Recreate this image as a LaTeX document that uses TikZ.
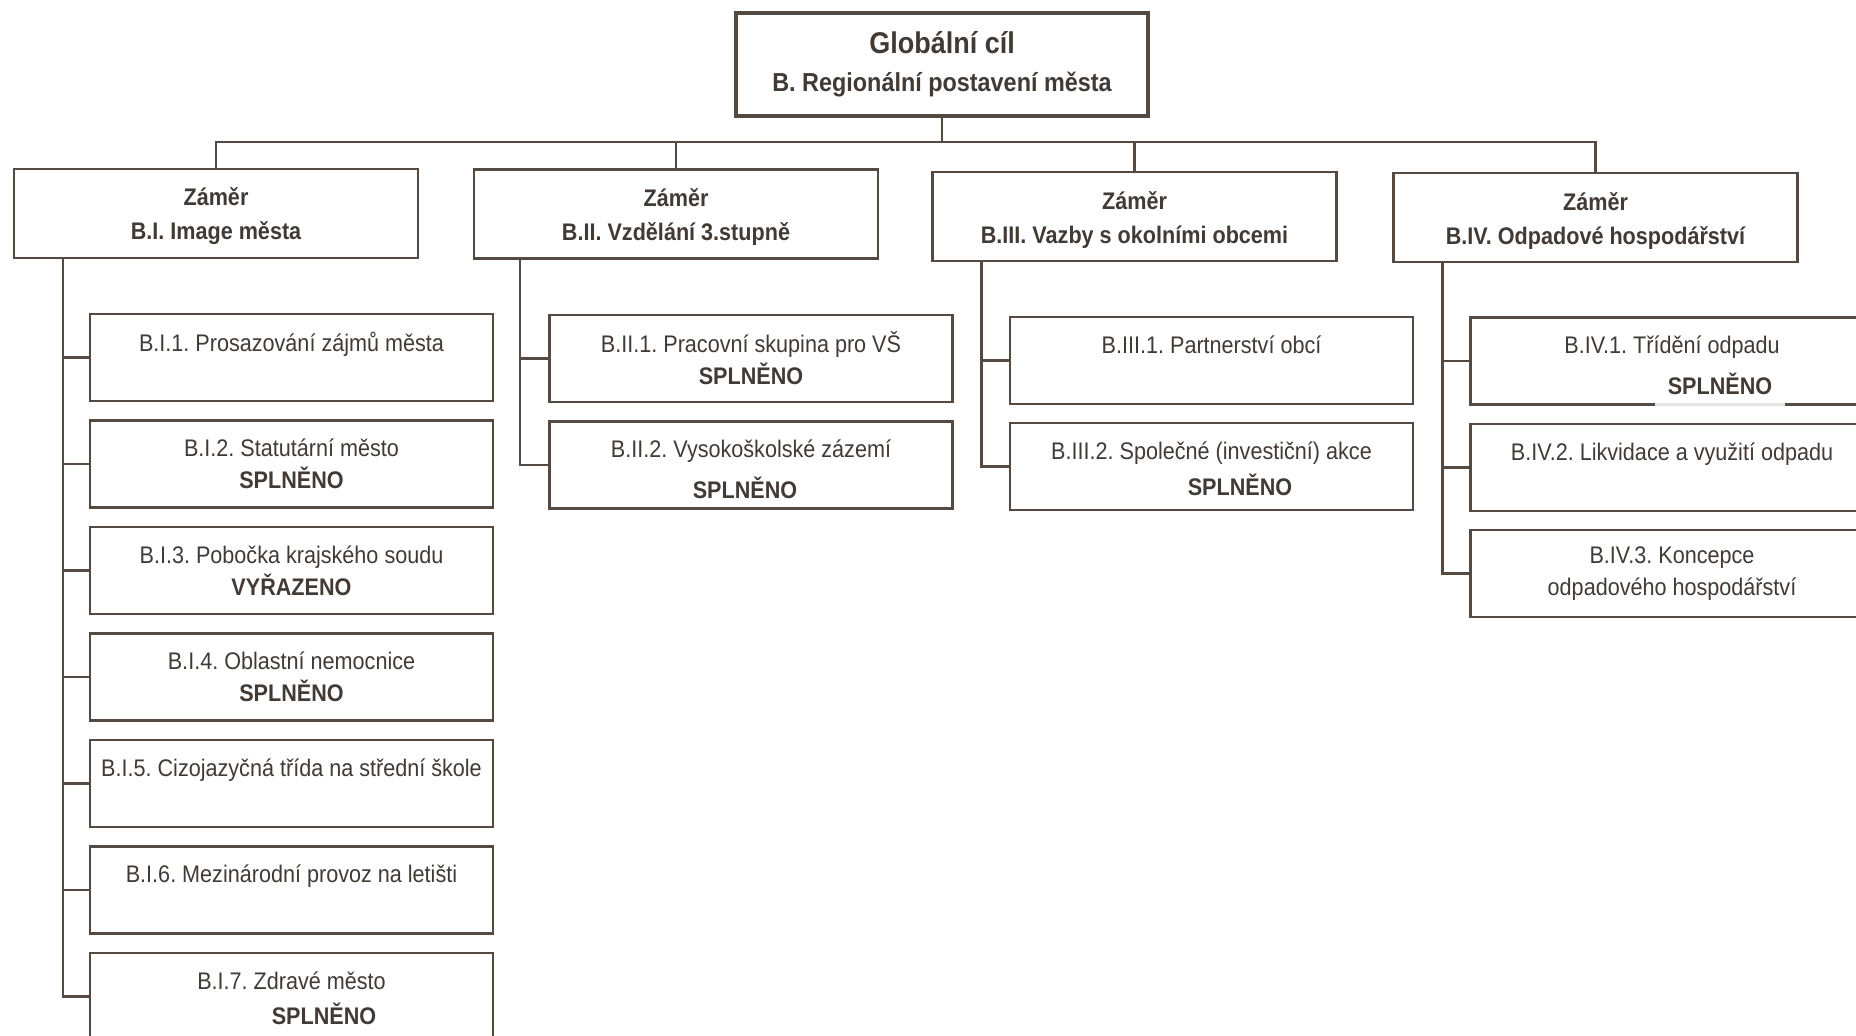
\documentclass[tikz,border=0pt]{standalone}
\usepackage{fontspec}
\setmainfont{Liberation Sans}[FakeStretch=0.9]
\frenchspacing
\usetikzlibrary{positioning}
\definecolor{linegray}{RGB}{84,74,66}
\definecolor{textgray}{RGB}{66,58,52}
\tikzset{
  goalbox/.style={draw=linegray, line width=2.2pt, minimum width=206pt, minimum height=51.5pt,
    align=center, text=textgray, font=\bfseries\fontsize{13}{19}\selectfont},
  aimbox/.style={draw=linegray, line width=1.1pt, minimum width=202pt, minimum height=44.5pt,
    align=center, text=textgray, font=\bfseries\fontsize{12}{17}\selectfont},
  taskbox/.style={draw=linegray, line width=1.1pt, minimum width=201.5pt, minimum height=43.5pt,
    align=center, text=textgray, font=\fontsize{12}{16}\selectfont},
  pasted/.style={fill=white, fill opacity=0.85, text opacity=1, text=textgray,
    font=\bfseries\fontsize{12}{14}\selectfont, minimum width=65pt, inner sep=0pt},
  link/.style={draw=linegray, line width=1.1pt}
}

\begin{document}
\begin{tikzpicture}[x=0.5pt, y=-0.5pt]

    \clip (0,0) rectangle (1856,1036);
    \fill[white] (0,0) rectangle (1856,1036);

    % global goal
    \node[goalbox] (goal) at (942,64.5) {{\fontsize{15}{19}\selectfont Globální cíl}\\B. Regionální postavení města};

    % aims
    \node[aimbox] (aimI) at (216,213.5) {\rule{0pt}{12pt}Záměr\\B.I. Image města};
    \node[aimbox] (aimII) at (676,214) {\rule{0pt}{12pt}Záměr\\B.II. Vzdělání 3.stupně};
    \node[aimbox] (aimIII) at (1134.5,216.5) {\rule{0pt}{12pt}Záměr\\B.III. Vazby s okolními obcemi};
    \node[aimbox] (aimIV) at (1595.5,217.5) {\rule{0pt}{12pt}Záměr\\B.IV. Odpadové hospodářství};

    \coordinate (bar) at (942,142);
    \draw[link] (goal.south) -- (bar);
    \draw[link] (aimI.north) -- (aimI.north |- bar) -- (aimIV.north |- bar) -- (aimIV.north);
    \draw[link] (aimII.north) -- (aimII.north |- bar);
    \draw[link] (aimIII.north) -- (aimIII.north |- bar);

    % B.I tasks
    \node[taskbox] (bi1) at (291.5,357.5) {B.I.1. Prosazování zájmů města\\\mbox{}};
    \node[taskbox] (bi2) at (291.5,464) {B.I.2. Statutární město\\\textbf{SPLNĚNO}};
    \node[taskbox] (bi3) at (291.5,570.5) {B.I.3. Pobočka krajského soudu\\\textbf{VYŘAZENO}};
    \node[taskbox] (bi4) at (291.5,677) {B.I.4. Oblastní nemocnice\\\textbf{SPLNĚNO}};
    \node[taskbox] (bi5) at (291.5,783.5) {B.I.5. Cizojazyčná třída na střední škole\\\mbox{}};
    \node[taskbox] (bi6) at (291.5,890) {B.I.6. Mezinárodní provoz na letišti\\\mbox{}};
    \node[taskbox] (bi7) at (291.5,996.5) {B.I.7. Zdravé město\\\mbox{}};

    % B.II tasks
    \node[taskbox] (bii1) at (751,358.5) {B.II.1. Pracovní skupina pro VŠ\\\textbf{SPLNĚNO}};
    \node[taskbox] (bii2) at (751,465) {B.II.2. Vysokoškolské zázemí\\\mbox{}};

    % B.III tasks
    \node[taskbox] (biii1) at (1211.5,360.5) {B.III.1. Partnerství obcí\\\mbox{}};
    \node[taskbox] (biii2) at (1211.5,466.5) {B.III.2. Společné (investiční) akce\\\mbox{}};

    % B.IV tasks
    \node[taskbox] (biv1) at (1672,361) {B.IV.1. Třídění odpadu\\\mbox{}};
    \node[taskbox] (biv2) at (1672,467.5) {B.IV.2. Likvidace a využití odpadu\\\mbox{}};
    \node[taskbox] (biv3) at (1672,573.5) {B.IV.3. Koncepce\\odpadového hospodářství};

    % pasted labels
    \node[pasted, minimum height=14pt] (okI) at (324,1014) {SPLNĚNO};
    \node[pasted, minimum height=15pt] (okII) at (745,488) {SPLNĚNO};
    \node[pasted, minimum height=16pt] (okIII) at (1240,485) {SPLNĚNO};
    \node[pasted, minimum height=23.5pt] (okIV) at (1720,384) {SPLNĚNO};

    % stems
    \coordinate (stemI) at ([xshift=25pt]aimI.south west);
    \coordinate (stemII) at ([xshift=23.5pt]aimII.south west);
    \coordinate (stemIII) at ([xshift=25pt]aimIII.south west);
    \coordinate (stemIV) at ([xshift=25pt]aimIV.south west);

    \draw[link] (stemI) |- (bi7.west);
    \foreach \i in {1,...,6}
    \draw[link] (bi\i.west) -- (bi\i.west -| stemI);

    \draw[link] (stemII) |- (bii2.west);
    \draw[link] (bii1.west) -- (bii1.west -| stemII);

    \draw[link] (stemIII) |- (biii2.west);
    \draw[link] (biii1.west) -- (biii1.west -| stemIII);

    \draw[link] (stemIV) |- (biv3.west);
    \foreach \i in {1,2}
    \draw[link] (biv\i.west) -- (biv\i.west -| stemIV);

\end{tikzpicture}
\end{document}
